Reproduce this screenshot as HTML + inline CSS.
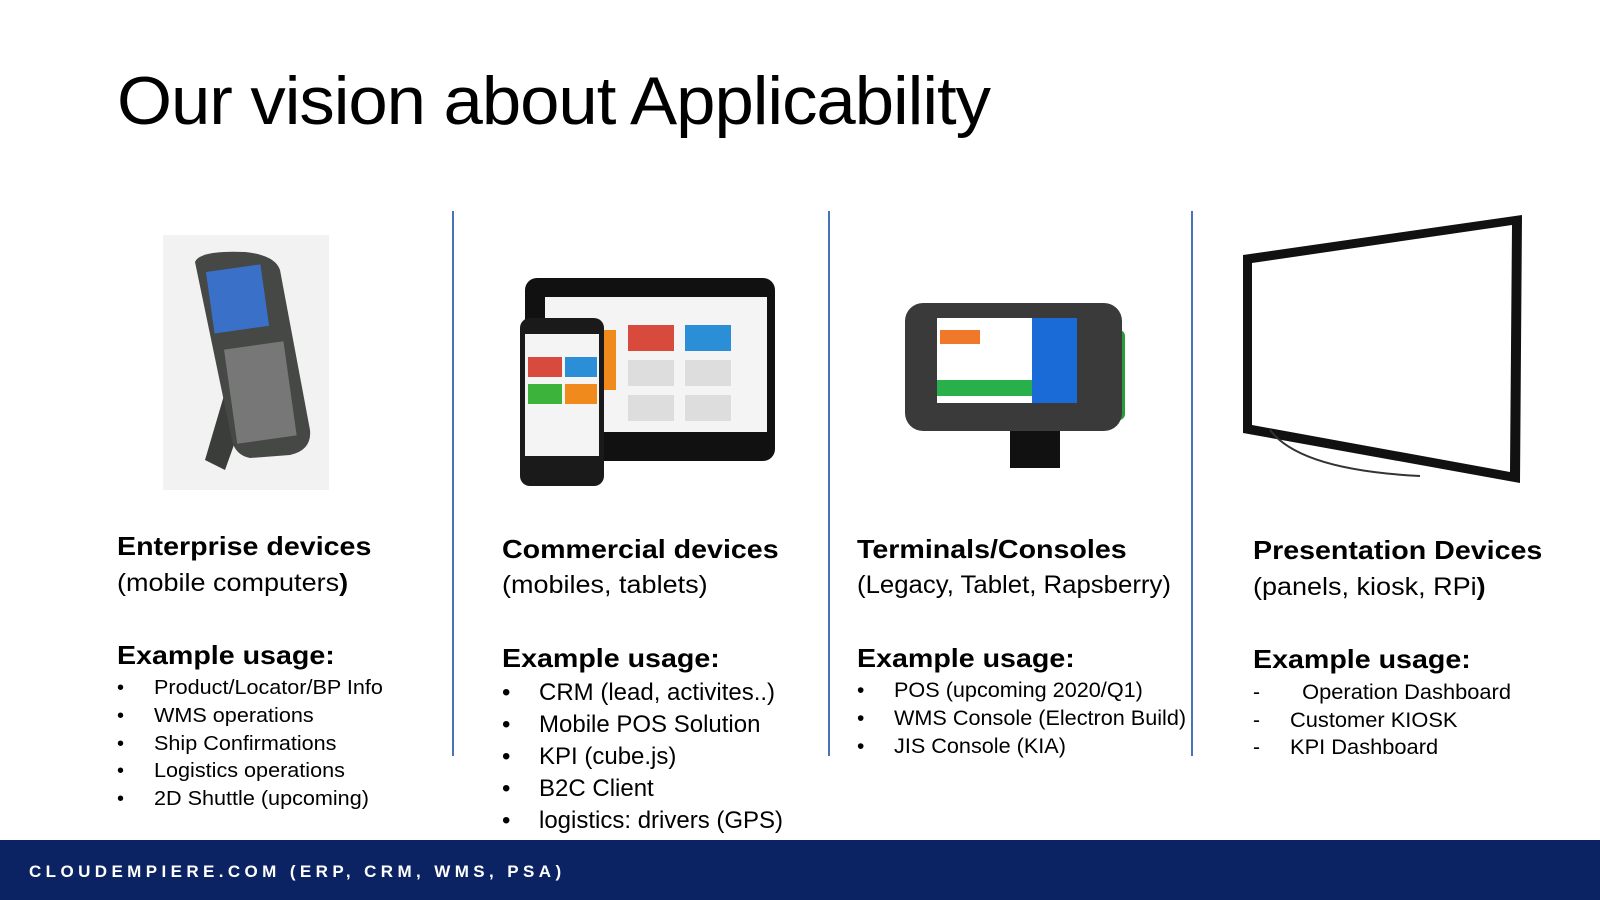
<!DOCTYPE html>
<html><head><meta charset="utf-8">
<style>
*{margin:0;padding:0;box-sizing:border-box}
body{width:1600px;height:900px;background:#fff;position:relative;overflow:hidden;font-family:"Liberation Sans",sans-serif;color:#000}
.a{position:absolute;white-space:nowrap}
.t{left:117px;top:62px;font-size:68px;transform:scaleX(1.04);transform-origin:left top;letter-spacing:-1px}
.vl{position:absolute;top:211px;width:2px;height:545px;background:#4a72b8}
.h{font-weight:bold;font-size:26px;transform:scaleX(1.1);transform-origin:left center}
.s{font-size:25px;transform:scaleX(1.08);transform-origin:left center}
.foot{position:absolute;left:0;top:840px;width:1600px;height:60px;background:#0c2363}
.ft{left:29px;top:862px;color:#fff;font-weight:bold;font-size:17px;letter-spacing:4.4px}
</style></head><body>
<div class="a t">Our vision about Applicability</div>
<div class="vl" style="left:452px"></div>
<div class="vl" style="left:828px"></div>
<div class="vl" style="left:1191px"></div>

<svg class="a" style="left:0;top:0" width="1600" height="900">
<rect x="163" y="235" width="166" height="255" fill="#f2f2f2"/>
<path d="M230 375 L205 460 L225 470 L250 400 Z" fill="#3a3d3a"/>
<path d="M195 262 Q200 250 245 252 Q275 255 280 270 L310 430 Q312 450 290 455 L250 458 Q235 455 232 440 Z" fill="#454845"/>
<rect x="210" y="268" width="55" height="62" fill="#3a70c8" transform="rotate(-8 237 299)"/>
<rect x="230" y="345" width="60" height="95" fill="#777" transform="rotate(-8 260 390)"/>
<rect x="525" y="278" width="250" height="183" rx="12" fill="#111"/>
<rect x="545" y="297" width="222" height="135" fill="#f4f4f4"/>
<rect x="628" y="325" width="46" height="26" fill="#d84a3c"/>
<rect x="685" y="325" width="46" height="26" fill="#2a8fd6"/>
<rect x="628" y="360" width="46" height="26" fill="#ddd"/><rect x="685" y="360" width="46" height="26" fill="#ddd"/>
<rect x="628" y="395" width="46" height="26" fill="#ddd"/><rect x="685" y="395" width="46" height="26" fill="#ddd"/>
<rect x="520" y="318" width="84" height="168" rx="10" fill="#1a1a1a"/>
<rect x="525" y="334" width="74" height="122" fill="#f4f4f4"/>
<rect x="528" y="357" width="34" height="20" fill="#d84a3c"/><rect x="565" y="357" width="32" height="20" fill="#2a8fd6"/>
<rect x="528" y="384" width="34" height="20" fill="#3cb43c"/><rect x="565" y="384" width="32" height="20" fill="#f08a1c"/>
<rect x="604" y="330" width="12" height="60" fill="#f08a1c"/>
<rect x="1035" y="330" width="90" height="90" rx="6" fill="#2a9a3a"/>
<rect x="1010" y="420" width="50" height="48" fill="#111"/>
<rect x="905" y="303" width="217" height="128" rx="18" fill="#3a3a3a"/>
<rect x="937" y="318" width="95" height="85" fill="#fff"/>
<rect x="1032" y="318" width="45" height="85" fill="#1a6ad8"/>
<rect x="937" y="380" width="95" height="16" fill="#2ab04a"/>
<rect x="940" y="330" width="40" height="14" fill="#f0782a"/>
<polygon points="1243,255 1522,215 1520,483 1243,433" fill="#111"/>
<polygon points="1252,263 1512,225 1510,472 1252,425" fill="#fff"/>
<path d="M1270 430 Q1300 470 1420 476" stroke="#333" stroke-width="2" fill="none"/>
</svg>

<div class="a h" style="left:117px;top:531px">Enterprise devices</div>
<div class="a s" style="left:117px;top:569px">(mobile computers<b>)</b></div>
<div class="a h" style="left:117px;top:640px">Example usage:</div>
<div class="a" style="left:117px;top:675px;font-size:20px;line-height:27.8px">•<br>•<br>•<br>•<br>•</div>
<div class="a" style="left:154px;top:675px;font-size:20px;line-height:27.8px;transform:scaleX(1.08);transform-origin:left top">Product/Locator/BP Info<br>WMS operations<br>Ship Confirmations<br>Logistics operations<br>2D Shuttle (upcoming)</div>

<div class="a h" style="left:502px;top:534px">Commercial devices</div>
<div class="a s" style="left:502px;top:571px">(mobiles, tablets)</div>
<div class="a h" style="left:502px;top:643px">Example usage:</div>
<div class="a" style="left:502px;top:677px;font-size:24px;line-height:32px">•<br>•<br>•<br>•<br>•</div>
<div class="a" style="left:539px;top:677px;font-size:24px;line-height:32px;transform:scaleX(1.0);transform-origin:left top">CRM (lead, activites..)<br>Mobile POS Solution<br>KPI (cube.js)<br>B2C Client<br>logistics: drivers (GPS)</div>

<div class="a h" style="left:857px;top:534px">Terminals/Consoles</div>
<div class="a s" style="left:857px;top:571px;transform:scaleX(1.03)">(Legacy, Tablet, Rapsberry)</div>
<div class="a h" style="left:857px;top:643px">Example usage:</div>
<div class="a" style="left:857px;top:677px;font-size:21px;line-height:28px">•<br>•<br>•</div>
<div class="a" style="left:894px;top:677px;font-size:21px;line-height:28px;transform:scaleX(1.03);transform-origin:left top">POS (upcoming 2020/Q1)<br>WMS Console (Electron Build)<br>JIS Console (KIA)</div>

<div class="a h" style="left:1253px;top:535px">Presentation Devices</div>
<div class="a s" style="left:1253px;top:573px">(panels, kiosk, RPi<b>)</b></div>
<div class="a h" style="left:1253px;top:644px">Example usage:</div>
<div class="a" style="left:1253px;top:679px;font-size:21px;line-height:27.5px">-<br>-<br>-</div>
<div class="a" style="left:1290px;top:679px;font-size:21px;line-height:27.5px;transform:scaleX(1.04);transform-origin:left top">&nbsp;&nbsp;Operation Dashboard<br>Customer KIOSK<br>KPI Dashboard</div>

<div class="foot"></div>
<div class="a ft">CLOUDEMPIERE.COM (ERP, CRM, WMS, PSA)</div>
</body></html>
